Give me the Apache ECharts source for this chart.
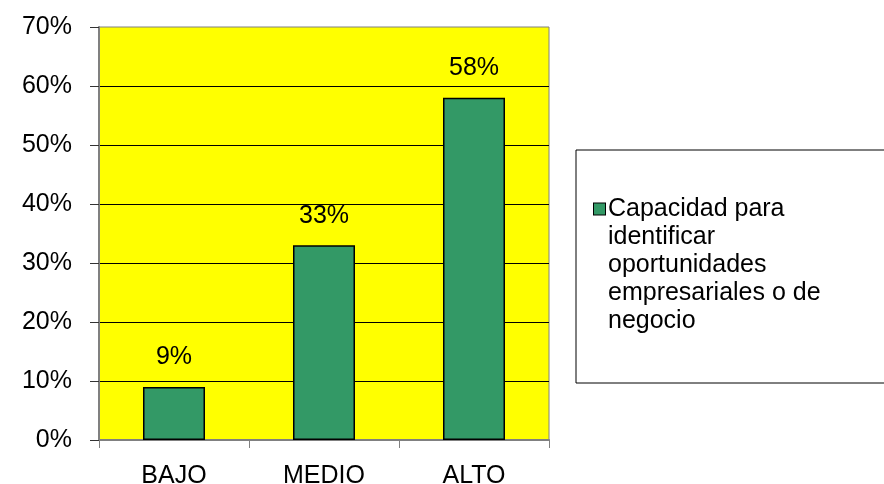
<!DOCTYPE html>
<html>
<head>
<meta charset="utf-8">
<script src="https://cdn.jsdelivr.net/npm/echarts@6/dist/echarts.min.js"></script>
<style>
html,body{margin:0;padding:0;background:#fff;}
#chart{width:884px;height:484px;}
</style>
</head>
<body>
<div id="chart"></div>
<script>
const categories = ['BAJO', 'MEDIO', 'ALTO'];
const values = [9, 33, 58];
const seriesName = 'Capacidad para identificar oportunidades empresariales o de negocio';
const legendLines = ['Capacidad para', 'identificar', 'oportunidades', 'empresariales o de', 'negocio'];
const yMin = 0, yMax = 70, yStep = 10;

const FONT = 'Liberation Sans, Arial, sans-serif';
const FS = 25;
const chart = echarts.init(document.getElementById('chart'), null, {renderer: 'canvas'});

chart.setOption({
  animation: false,
  backgroundColor: '#ffffff',
  textStyle: {fontFamily: FONT},
  grid: {
    left: 99, right: 335, top: 27, bottom: 44,
    outerBoundsMode: 'none', containLabel: false,
    show: true, backgroundColor: '#ffff00', borderColor: '#808080', borderWidth: 1
  },
  legend: {
    show: true,
    left: 576, top: 150,
    orient: 'vertical',
    padding: [45, 90, 48, 12],
    borderColor: '#000', borderWidth: 1, backgroundColor: '#fff',
    itemWidth: 0, itemHeight: 0,
    itemStyle: {opacity: 0},
    selectedMode: false,
    data: [seriesName],
    formatter: function () {
      return legendLines.map(function (l, i) {
        return (i === 0 ? '{sq|}' : '{sp|}') + '{t|' + l + '}';
      }).join('\n');
    },
    textStyle: {
      fontFamily: FONT, fontSize: FS, color: '#000', lineHeight: 28,
      rich: {
        sq: {width: 11, height: 11, backgroundColor: '#339966', borderColor: '#000', borderWidth: 1, lineHeight: 28},
        sp: {width: 11, height: 11, lineHeight: 28},
        t: {fontFamily: FONT, fontSize: FS, color: '#000', lineHeight: 28, padding: [0, 0, 0, 3]}
      }
    }
  },
  xAxis: {
    type: 'category',
    data: categories,
    boundaryGap: true,
    axisLine: {show: true, lineStyle: {color: '#808080', width: 2}},
    axisTick: {show: true, length: 8, lineStyle: {color: '#808080', width: 1}},
    axisLabel: {fontFamily: FONT, fontSize: FS, color: '#000', margin: 24}
  },
  yAxis: {
    type: 'value',
    min: yMin, max: yMax, interval: yStep,
    axisLine: {show: true, lineStyle: {color: '#808080', width: 2}},
    axisTick: {show: true, length: 9, lineStyle: {color: '#333', width: 1}},
    axisLabel: {fontFamily: FONT, fontSize: FS, color: '#000', margin: 27, formatter: '{value}%'},
    splitLine: {show: true, showMinLine: false, showMaxLine: false, lineStyle: {color: '#000', width: 1}}
  },
  series: [{
    name: seriesName,
    type: 'bar',
    data: values,
    barWidth: 62,
    itemStyle: {color: '#339966', borderColor: '#000', borderWidth: 1.5},
    label: {
      show: true, position: 'top', distance: 17,
      fontFamily: FONT, fontSize: FS, color: '#000',
      formatter: '{c}%'
    }
  }]
});
</script>
</body>
</html>
